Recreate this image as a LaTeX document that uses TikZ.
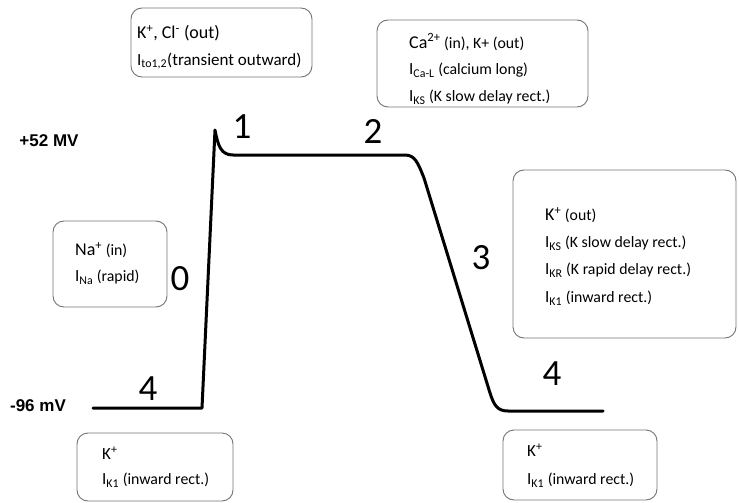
\documentclass[tikz,border=0pt]{standalone}
\usepackage{fontspec}
\setmainfont{Carlito}
\newfontfamily\arialf{Liberation Sans}
\begin{document}
\begin{tikzpicture}[x=1pt,y=-1pt,
 box/.style={draw=black!55, line width=0.9pt, rounded corners=11pt, inner sep=0pt},
 txt/.style={anchor=west, inner sep=0pt, font=\fontsize{15.8}{18}\selectfont},
 bigtxt/.style={anchor=west, inner sep=0pt, font=\fontsize{18}{21}\selectfont},
 phase/.style={inner sep=0pt, font=\fontsize{37}{40}\selectfont},
 volt/.style={inner sep=0pt, font=\arialf\bfseries\fontsize{17}{20}\selectfont},
 apcurve/.style={line width=3pt, line join=round, line cap=round}]
\useasboundingbox (0,0) rectangle (739,503);
% boxes
\node[box, minimum width=181pt, minimum height=69pt] (b1) at (221.5,42.5) {};
\node[box, minimum width=211pt, minimum height=87pt] (b2) at (482.5,63.5) {};
\node[box, minimum width=114pt, minimum height=86pt] (b3) at (110,264) {};
\node[box, minimum width=223pt, minimum height=168pt] (b4) at (624.5,254) {};
\node[box, minimum width=156pt, minimum height=68pt] (b5) at (155,467) {};
\node[box, minimum width=154pt, minimum height=70pt] (b6) at (580,465) {};
% box texts
\node[bigtxt] (t11) at (137,33) {K\textsuperscript{+}, Cl\textsuperscript{-} (out)};
\node[txt] (t12) at (137,61) {\fontsize{17}{20}\selectfont I\textsubscript{to1,2}(transient outward)};
\node[txt] (t21) at (409,42) {{\fontsize{18}{21}\selectfont Ca\textsuperscript{2+}} (in), K+ (out)};
\node[txt] (t22) at (409,70) {{\fontsize{17}{20}\selectfont I\textsubscript{Ca-L}} (calcium long)};
\node[txt] (t23) at (409,97) {{\fontsize{17}{20}\selectfont I\textsubscript{KS}} (K slow delay rect.)};
\node[txt] (t31) at (75,250) {{\fontsize{18}{21}\selectfont Na\textsuperscript{+}} (in)};
\node[txt] (t32) at (75,277) {{\fontsize{17}{20}\selectfont I\textsubscript{Na}} (rapid)};
\node[txt] (t41) at (545,215) {{\fontsize{18}{21}\selectfont K\textsuperscript{+}} (out)};
\node[txt] (t42) at (545,243) {{\fontsize{17}{20}\selectfont I\textsubscript{KS}} (K slow delay rect.)};
\node[txt] (t43) at (545,270) {{\fontsize{17}{20}\selectfont I\textsubscript{KR}} (K rapid delay rect.)};
\node[txt] (t44) at (545,298) {{\fontsize{17}{20}\selectfont I\textsubscript{K1}} (inward rect.)};
\node[txt] (t51) at (102,453) {{\fontsize{17}{20}\selectfont K\textsuperscript{+}}};
\node[txt] (t52) at (102,480) {{\fontsize{17}{20}\selectfont I\textsubscript{K1}} (inward rect.)};
\node[txt] (t61) at (527,450) {{\fontsize{17}{20}\selectfont K\textsuperscript{+}}};
\node[txt] (t62) at (527,480) {{\fontsize{17}{20}\selectfont I\textsubscript{K1}} (inward rect.)};
% voltage labels
\node[volt] (v52) at (49,141) {+52 MV};
\node[volt] (v96) at (38,406) {-96 mV};
% phase numbers
\node[phase] (p1) at (242,127) {1};
\node[phase] (p2) at (373,131) {2};
\node[phase] (p0) at (180,279) {0};
\node[phase] (p3) at (481,258) {3};
\node[phase] (p4a) at (148,389) {4};
\node[phase] (p4b) at (552,374) {4};
% action potential
\draw[apcurve] (93,408) -- (202,408) -- (215,130)
  .. controls (218,146) and (221,155) .. (233,155) -- (405,155)
  .. controls (415,155) and (418,163) .. (424,178)
  -- (490,393) .. controls (494,405) and (497,411) .. (508,411) -- (603,411);
\end{tikzpicture}
\end{document}
